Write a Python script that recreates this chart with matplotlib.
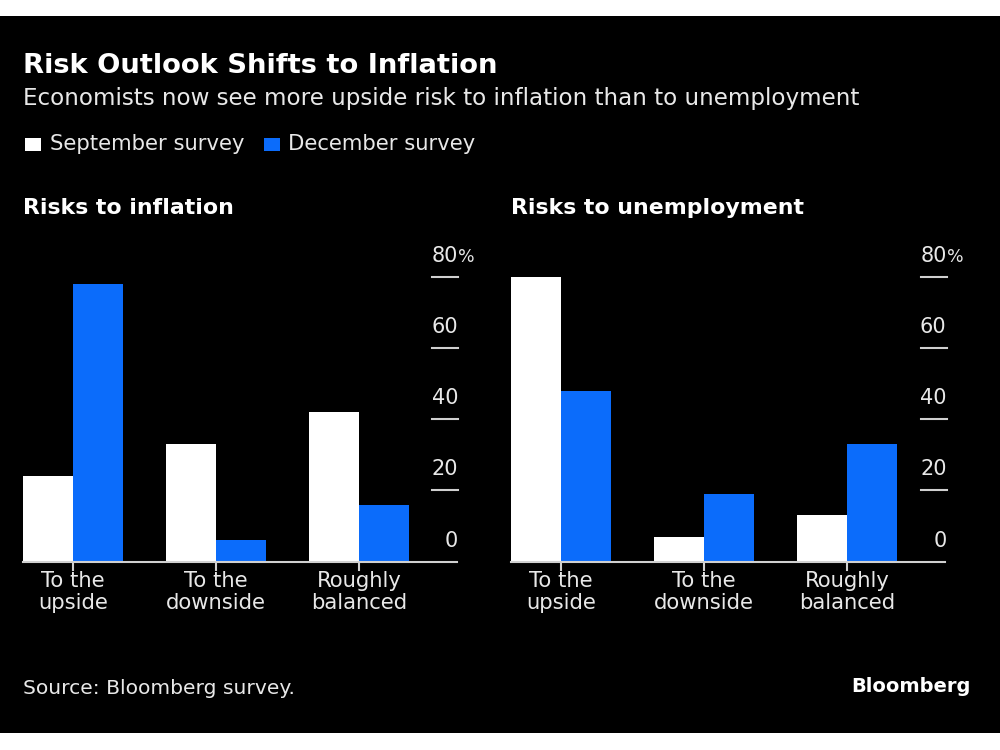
import matplotlib.pyplot as plt
from matplotlib.patches import Rectangle
import numpy as np

# --- data ---
categories = ["To the\nupside", "To the\ndownside", "Roughly\nbalanced"]
inflation_sep = [24, 33, 42]
inflation_dec = [78, 6, 16]
unemp_sep = [80, 7, 13]
unemp_dec = [48, 19, 33]
yticks = [0, 20, 40, 60, 80]

WHITE = "#ffffff"
BLUE = "#0b6cfb"
TXT = "#e8e8e8"
LINE = "#d0d0d0"

plt.rcParams['font.family'] = ['DejaVu Sans']

fig = plt.figure(figsize=(10, 7.5), dpi=100)
fig.patch.set_facecolor("white")
# black card with thin white strips top and bottom
fig.add_artist(Rectangle((0, 17 / 750), 1, (733 - 16) / 750, transform=fig.transFigure,
                         facecolor="black", edgecolor="none", zorder=0))

# --- headings ---
fig.text(0.023, 1 - 66 / 750, "Risk Outlook Shifts to Inflation", color=WHITE,
         fontsize=19.7, fontweight="bold", va="center")
fig.text(0.023, 1 - 98 / 750, "Economists now see more upside risk to inflation than to unemployment",
         color=TXT, fontsize=16.6, va="center")

# legend
fig.add_artist(Rectangle((0.025, 1 - 151 / 750), 0.016, 13 / 750, transform=fig.transFigure,
                         facecolor=WHITE, edgecolor="none"))
fig.text(0.050, 1 - 144 / 750, "September survey", color=TXT, fontsize=15.2, va="center")
fig.add_artist(Rectangle((0.264, 1 - 151 / 750), 0.016, 13 / 750, transform=fig.transFigure,
                         facecolor=BLUE, edgecolor="none"))
fig.text(0.288, 1 - 144 / 750, "December survey", color=TXT, fontsize=15.2, va="center")


def panel(left, sep, dec, title):
    ax = fig.add_axes([left, 1 - 561.7 / 750, 0.4355, 285 / 750])
    ax.set_facecolor("none")
    x = np.arange(len(categories))
    w = 0.35
    ax.bar(x - w / 2, sep, w, color=WHITE, linewidth=0)
    ax.bar(x + w / 2, dec, w, color=BLUE, linewidth=0)
    ax.set_xlim(-0.35, 2.694)
    ax.set_ylim(0, 80)
    for s in ax.spines.values():
        s.set_visible(False)
    ax.set_xticks([])
    ax.set_yticks([])

    # baseline
    ax.plot([-0.35, 2.685], [0, 0], color=LINE, lw=1.5, clip_on=False)
    # category ticks and labels
    for xi, lab in zip(x, categories):
        ax.plot([xi, xi], [0, -2.3], color=LINE, lw=1.5, clip_on=False)
        ax.annotate(lab, (xi, 0), xytext=(0, -7), textcoords="offset points",
                    ha="center", va="top", color=TXT, fontsize=15.2, linespacing=1.12)
    # y ticks on the right
    for v in yticks:
        if v > 0:
            ax.plot([2.513, 2.694], [v, v], color=LINE, lw=1.5, clip_on=False)
        ax.annotate(str(v), (2.694, v), xytext=(0, 8), textcoords="offset points",
                    ha="right", va="bottom", color=TXT, fontsize=15)
    ax.annotate("%", (2.694, 80), xytext=(0, 8), textcoords="offset points",
                ha="left", va="bottom", color=TXT, fontsize=12.5)

    fig.text(left, 1 - 208 / 750, title, color=WHITE, fontsize=15.8,
             fontweight="bold", va="center")
    return ax


panel(0.0227, inflation_sep, inflation_dec, "Risks to inflation")
panel(0.511, unemp_sep, unemp_dec, "Risks to unemployment")

# --- footer ---
fig.text(0.023, 1 - 688 / 750, "Source: Bloomberg survey.", color=TXT, fontsize=14.6, va="center")
fig.text(0.971, 1 - 686 / 750, "Bloomberg", color=WHITE, fontsize=14, fontweight="bold",
         va="center", ha="right")

fig.savefig("out.png", dpi=100, facecolor=fig.get_facecolor())
